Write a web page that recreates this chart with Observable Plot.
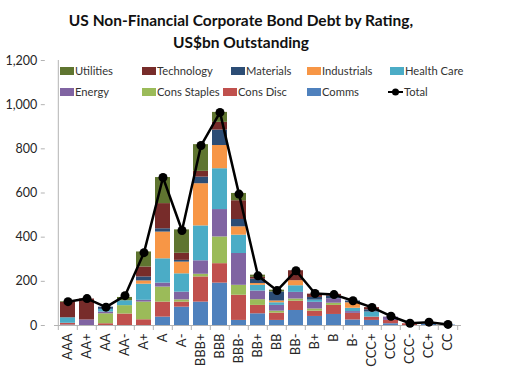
<!DOCTYPE html>
<html>
<head>
<meta charset="utf-8">
<script src="https://cdn.jsdelivr.net/npm/d3@7"></script>
<script src="https://cdn.jsdelivr.net/npm/@observablehq/plot@0.6"></script>
<style>
  body { margin: 0; background: #fff; }
  #wrap { position: relative; width: 516px; height: 381px; font-family: Lato, "Open Sans", sans-serif; color: #262626; }
  #title { position: absolute; top: 9px; left: 0; width: 482px; text-align: center; font-weight: bold; font-size: 15.5px; line-height: 22px; color: #111; }
  #chart { position: absolute; top: 0; left: 0; }
  .leg { position: absolute; font-size: 11.2px; display: flex; align-items: center; white-space: nowrap; color: #333; }
  .sw { width: 14px; height: 8px; margin-right: 1px; }
</style>
</head>
<body>
<div id="wrap">
  <div id="chart"></div>
  <div id="title">US Non-Financial Corporate Bond Debt by Rating,<br>US$bn Outstanding</div>
</div>
<script>
const ratings = ["AAA","AA+","AA","AA-","A+","A","A-","BBB+","BBB","BBB-","BB+","BB","BB-","B+","B","B-","CCC+","CCC","CCC-","CC+","CC"];
const sectors = ["Comms","Cons Disc","Cons Staples","Energy","Health Care","Industrials","Materials","Technology","Utilities"];
const colors  = ["#4F81BD","#C0504D","#9BBB59","#8064A2","#4BACC6","#F79646","#2C4D75","#772C2A","#5F7530"];

const comms       = [2, 0, 0, 0, 0, 38, 83, 106, 192, 23, 53, 23, 68, 41, 50, 25, 23, 8, 0, 5, 2];
const consDisc    = [8, 0, 8, 52, 26, 68, 23, 114, 88, 114, 38, 33, 42, 24, 41, 30, 15, 15, 8, 0, 0];
const consStaples = [0, 0, 45, 38, 80, 68, 10, 12, 121, 45, 26, 9, 10, 10, 10, 0, 0, 0, 0, 0, 0];
const energy      = [0, 25, 8, 0, 8, 18, 35, 61, 124, 144, 39, 26, 30, 30, 20, 8, 0, 15, 0, 0, 0];
const healthCare  = [25, 0, 12, 22, 73, 110, 83, 158, 185, 83, 26, 12, 30, 10, 0, 15, 23, 0, 0, 0, 0];
const industrials = [0, 0, 0, 0, 15, 121, 53, 191, 105, 38, 8, 8, 23, 0, 0, 25, 0, 0, 0, 0, 0];
const materials   = [0, 0, 10, 0, 18, 15, 8, 30, 70, 33, 20, 41, 0, 12, 12, 8, 10, 0, 0, 0, 0];
const technology  = [70, 95, 0, 0, 45, 114, 32, 26, 35, 85, 8, 0, 45, 15, 8, 0, 10, 0, 0, 0, 0];
const utilities   = [3, 0, 0, 15, 68, 118, 106, 121, 45, 33, 10, 8, 0, 0, 0, 0, 0, 0, 0, 0, 0];
const total       = [108, 122, 83, 135, 330, 670, 430, 815, 965, 595, 225, 158, 248, 145, 140, 112, 82, 42, 10, 15, 5];
const yTicks = [0, 200, 400, 600, 800, 1000, 1200];

const series = [comms, consDisc, consStaples, energy, healthCare, industrials, materials, technology, utilities];
const rows = [];
series.forEach((vals, s) => ratings.forEach((r, i) => rows.push({rating: r, sector: sectors[s], value: vals[i]})));
const totals = ratings.map((r, i) => ({rating: r, total: total[i]}));

const mL = 54, mR = 55;
const step = (516 - mL - mR) / ratings.length;
const axisGray = "#b3b3b3";

const chart = Plot.plot({
  width: 516,
  height: 381,
  marginTop: 60,
  marginBottom: 56,
  marginLeft: mL,
  marginRight: mR,
  style: {fontFamily: "Lato, 'Open Sans', sans-serif", background: "transparent", color: "#262626"},
  x: {domain: ratings, paddingInner: 0.2, paddingOuter: 0.1, axis: null},
  y: {domain: [0, 1200], axis: null},
  color: {domain: sectors, range: colors},
  marks: [
    Plot.barY(rows, {x: "rating", y: "value", fill: "sector", z: "sector"}),
    Plot.ruleY([0], {stroke: axisGray, strokeWidth: 1}),
    Plot.ruleX([ratings[0]], {x: d => d, y1: 0, y2: 1200, dx: -step / 2, stroke: axisGray}),
    Plot.ruleX(ratings, {x: d => d, y1: 0, y2: 0, insetBottom: -5, dx: -step / 2, stroke: axisGray}),
    Plot.ruleX([ratings[ratings.length - 1]], {x: d => d, y1: 0, y2: 0, insetBottom: -5, dx: step / 2, stroke: axisGray}),
    Plot.axisY({ticks: yTicks, tickSize: 4, tickPadding: 4, tickFormat: d3.format(","), fontSize: 12.5, stroke: axisGray, dx: -step / 2 + 0.5, label: null}),
    Plot.axisX({tickRotate: -90, tickSize: 0, tickPadding: 8, fontSize: 13, label: null}),
    Plot.line(totals, {x: "rating", y: "total", stroke: "#000", strokeWidth: 2.5}),
    Plot.dot(totals, {x: "rating", y: "total", r: 4.5, fill: "#000"})
  ]
});
document.getElementById("chart").appendChild(chart);

// legend (order as in reference)
const legendItems = ["Utilities","Technology","Materials","Industrials","Health Care","Energy","Cons Staples","Cons Disc","Comms","Total"];
const legendX = [[60, 142, 231, 307, 390], [60, 142, 223, 307, 388]];
const rowY = [64, 85];
const wrap = document.getElementById("wrap");
legendItems.forEach((name, i) => {
  const el = document.createElement("div");
  el.className = "leg";
  const r = Math.floor(i / 5);
  el.style.left = legendX[r][i % 5] + "px";
  el.style.top = rowY[r] + "px";
  if (name === "Total") {
    el.innerHTML = '<svg width="15" height="10" style="margin-right:1px"><line x1="0" y1="5" x2="15" y2="5" stroke="#000" stroke-width="2"/><circle cx="7.5" cy="5" r="3.5" fill="#000"/></svg>';
  } else {
    const sw = document.createElement("div");
    sw.className = "sw";
    sw.style.background = colors[sectors.indexOf(name)];
    el.appendChild(sw);
  }
  el.appendChild(document.createTextNode(name));
  wrap.appendChild(el);
});
</script>
</body>
</html>
